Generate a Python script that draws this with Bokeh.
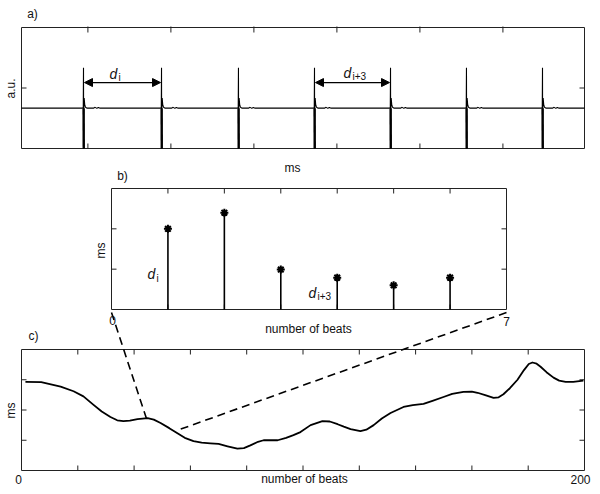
import numpy as np
from bokeh.plotting import figure
from bokeh.models import Range1d, Arrow, NormalHead
from bokeh.embed import file_html
from bokeh.resources import INLINE
from bokeh.core.properties import value

# ---------------- data ----------------
# panel a) ECG trace: beat (R-peak) times in ms and one beat template
a_xrange = (0, 6783)
a_yrange = (-2, 4)
a_xticks = [800, 1800, 2800, 3800, 4800, 5800]
a_yticks = [1]
beat_times_ms = [747, 1687, 2614, 3530, 4446, 5361, 6277]
tmpl_dt_ms = [-200, -12, -3, 0, 2, 4, 8, 14, 22, 40, 120, 140, 160, 180, 200, 260]
tmpl_amp = [0.0, 0.0, 0.03, 2.0, -2.0, 0.1, 0.5, 0.2, 0.06, 0.0, 0.0, 0.04, -0.01, 0.03, 0.0, 0.0]
arrow_pairs = [(0, 1), (3, 4)]       # beat indices joined by d_i and d_i+3
arrow_level = 1.27

# panel b) interval per beat
b_xrange = (0, 7)
b_yrange = (0, 3)
b_xticks = [1, 2, 3, 4, 5, 6]
b_yticks = [1, 2]
b_beats = [1, 2, 3, 4, 5, 6]
b_interval = [2.0, 2.4, 0.99, 0.79, 0.6, 0.79]

# panel c) interval series over 200 beats
c_xrange = (0, 200)
c_yrange = (0, 4)
c_xticks = [20, 40, 60, 80, 100, 120, 140, 160, 180]
c_yticks = [1, 2, 3]
c_beats = [1.4, 7, 13.9, 18.5, 22, 25.6, 28.5, 31.6, 34, 36.2, 38.5, 41.2, 44.8, 47, 49.4,
           52.5, 55.4, 58, 61.1, 64, 67.1, 70, 73.2, 76.7, 79, 81.3, 84, 86, 88.5, 91,
           94, 96.6, 99.1, 102.7, 106.9, 109.5, 112.3, 114.5, 116.9, 120.4, 122.5, 125.1,
           128, 131.1, 135.7, 139, 142.8, 146, 149.9, 153, 157, 160, 162, 165, 167.7,
           169.5, 171.2, 173.5, 176.2, 178.5, 180.2, 181.5, 183, 184.4, 186.5, 189, 191,
           193.3, 196, 199.6]
c_values = [2.93, 2.92, 2.77, 2.62, 2.45, 2.17, 1.95, 1.77, 1.66, 1.63, 1.65, 1.7, 1.73, 1.68, 1.57,
            1.4, 1.23, 1.08, 0.97, 0.92, 0.9, 0.88, 0.8, 0.72, 0.74, 0.83, 0.95, 1.0, 1.0, 1.0,
            1.08, 1.17, 1.27, 1.5, 1.63, 1.62, 1.53, 1.45, 1.37, 1.3, 1.35, 1.5,
            1.72, 1.9, 2.1, 2.16, 2.2, 2.3, 2.43, 2.53, 2.6, 2.61, 2.57, 2.48, 2.4,
            2.42, 2.52, 2.72, 3.0, 3.32, 3.52, 3.57, 3.53, 3.43, 3.25, 3.07, 2.97,
            2.93, 2.93, 2.97]

# connector lines: from b's bottom corners to points in c
conn_b_x = [0, 7]
conn_c_x = [44.8, 55.4]
conn_c_y = [1.6, 1.33]

# ---------------- layout (pixels from the picture's top-left) ----------------
W, H = 592, 486
A_BOX = (21, 584, 148, 27)    # left, right, bottom, top
B_BOX = (111, 506, 309, 188)
C_BOX = (21, 584, 470, 349)

FONT = value("Liberation Sans")

p = figure(width=W, height=H, x_range=Range1d(0, W), y_range=Range1d(H, 0),
           output_backend="svg", toolbar_location=None, x_axis_type=None, y_axis_type=None,
           min_border=0, outline_line_color=None)


def panel(xr, yr, box):
    l, r, b, t = box
    return p.subplot(x_source=Range1d(*xr), y_source=Range1d(*yr),
                     x_target=Range1d(l, r), y_target=Range1d(b, t))


def to_page(xr, yr, box, x, y):
    l, r, b, t = box
    px = l + (np.asarray(x, float) - xr[0]) / (xr[1] - xr[0]) * (r - l)
    py = b + (np.asarray(y, float) - yr[0]) / (yr[1] - yr[0]) * (t - b)
    return px, py


def frame(sp, xr, yr, box, xticks, yticks, tick_px=5):
    l, r, b, t = box
    sp.quad(left=[xr[0]], right=[xr[1]], bottom=[yr[0]], top=[yr[1]],
            fill_color=None, line_color="#222222", line_width=1)
    dx = tick_px * (xr[1] - xr[0]) / (r - l)
    dy = tick_px * (yr[1] - yr[0]) / abs(b - t)
    xt = np.asarray(xticks, float)
    n = len(xt)
    sp.segment(x0=np.r_[xt, xt], x1=np.r_[xt, xt],
               y0=np.r_[np.full(n, yr[0]), np.full(n, yr[1])],
               y1=np.r_[np.full(n, yr[0] + dy), np.full(n, yr[1] - dy)],
               line_color="#222222", line_width=1)
    yt = np.asarray(yticks, float)
    m = len(yt)
    sp.segment(y0=np.r_[yt, yt], y1=np.r_[yt, yt],
               x0=np.r_[np.full(m, xr[0]), np.full(m, xr[1])],
               x1=np.r_[np.full(m, xr[0] + dx), np.full(m, xr[1] - dx)],
               line_color="#222222", line_width=1)


# ---- panel a ----
sa = panel(a_xrange, a_yrange, A_BOX)
frame(sa, a_xrange, a_yrange, A_BOX, a_xticks, a_yticks)
sig_t = [a_xrange[0]]
sig_v = [0.0]
for bt in beat_times_ms:
    sig_t += [bt + d for d in tmpl_dt_ms]
    sig_v += list(tmpl_amp)
sig_t.append(a_xrange[1])
sig_v.append(0.0)
sa.line(x=sig_t, y=sig_v, line_color="black", line_width=1.1)
bt_arr = np.asarray(beat_times_ms, float)
sa.segment(x0=bt_arr + 1, y0=np.zeros(len(bt_arr)), x1=bt_arr + 3, y1=np.full(len(bt_arr), a_yrange[0]),
           line_color="black", line_width=2.4)

for i0, i1 in arrow_pairs:
    x0, y0 = to_page(a_xrange, a_yrange, A_BOX, beat_times_ms[i0], arrow_level)
    x1, y1 = to_page(a_xrange, a_yrange, A_BOX, beat_times_ms[i1], arrow_level)
    p.add_layout(Arrow(x_start=float(x0) + 1, y_start=float(y0), x_end=float(x1) - 1, y_end=float(y1),
                       line_color="black", line_width=1.2,
                       start=NormalHead(size=8, fill_color="black", line_color="black"),
                       end=NormalHead(size=8, fill_color="black", line_color="black")))

# ---- panel b ----
sb = panel(b_xrange, b_yrange, B_BOX)
frame(sb, b_xrange, b_yrange, B_BOX, b_xticks, b_yticks)
sb.segment(x0=b_beats, y0=[0] * len(b_beats), x1=b_beats, y1=b_interval,
           line_color="black", line_width=1.6)
sb.scatter(x=b_beats, y=b_interval, marker="asterisk", size=8, line_color="black", line_width=2)

# ---- panel c ----
sc = panel(c_xrange, c_yrange, C_BOX)
frame(sc, c_xrange, c_yrange, C_BOX, c_xticks, c_yticks)
sc.line(x=c_beats, y=c_values, line_color="black", line_width=1.8, line_join="round")

# ---- connectors ----
for bx, cx, cy in zip(conn_b_x, conn_c_x, conn_c_y):
    px0, py0 = to_page(b_xrange, b_yrange, B_BOX, bx, b_yrange[0])
    px1, py1 = to_page(c_xrange, c_yrange, C_BOX, cx, cy)
    p.line(x=[float(px0), float(px1)], y=[float(py0) + 3, float(py1)], line_color="black",
           line_width=1.6, line_dash="8 5")

# ---- texts ----
p.text(x=[32, 292, 122, 33, 112, 506, 18],
       y=[13, 167, 175, 335, 320, 321, 479],
       text=["a)", "ms", "b)", "c)", "0", "7", "0"],
       text_font=FONT, text_font_size="12px", text_align="center", text_baseline="middle",
       text_color="#111111")
p.text(x=[590], y=[479], text=["200"],
       text_font=FONT, text_font_size="12px", text_align="right", text_baseline="middle",
       text_color="#111111")
p.text(x=[308, 304], y=[328, 478], text=["number of beats", "number of beats"],
       text_font=FONT, text_font_size="12px", text_align="center", text_baseline="middle",
       text_color="#111111")
p.text(x=[10, 100, 10], y=[88, 250, 410], text=["a.u.", "ms", "ms"], angle=np.pi / 2,
       text_font=FONT, text_font_size="12px", text_align="center", text_baseline="middle",
       text_color="#111111")
# d_i labels
p.text(x=[113, 347, 151, 312], y=[73, 72, 273, 292], text=["d", "d", "d", "d"],
       text_font=FONT, text_font_style="italic", text_font_size="14px",
       text_align="center", text_baseline="middle", text_color="#111111")
p.text(x=[118, 352, 156, 317], y=[77, 76, 278, 296], text=["i", "i+3", "i", "i+3"],
       text_font=FONT, text_font_size="10px",
       text_align="left", text_baseline="middle", text_color="#111111")

open("out.html", "w").write(file_html(p, INLINE))
